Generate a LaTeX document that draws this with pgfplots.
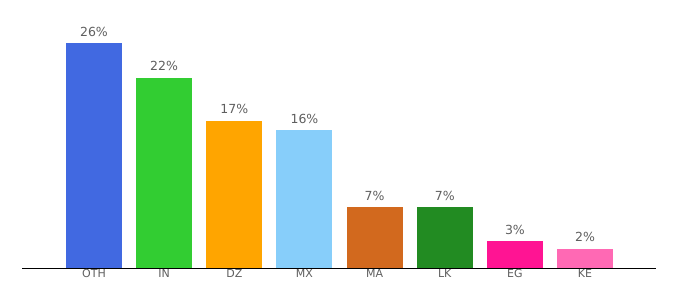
\documentclass[border=0pt]{standalone}
\usepackage{pgfplots}
\pgfplotsset{compat=1.18}
\usepackage{fontspec}
\setmainfont{DejaVu Sans}
\definecolor{cOTH}{HTML}{4169E1}
\definecolor{cIN}{HTML}{32CD32}
\definecolor{cDZ}{HTML}{FFA500}
\definecolor{cMX}{HTML}{87CEFA}
\definecolor{cMA}{HTML}{D2691E}
\definecolor{cLK}{HTML}{228B22}
\definecolor{cEG}{HTML}{FF1493}
\definecolor{cKE}{HTML}{FF69B4}
\definecolor{txt}{HTML}{5F5F5F}
\begin{document}
\begin{tikzpicture}[x=1pt,y=1pt]
\path[use as bounding box] (0,0) rectangle (680,300);
\begin{axis}[
  at={(22pt,32pt)}, anchor=south west,
  scale only axis,
  width=634pt, height=259.5pt,
  xmin=-1.026, xmax=8.011,
  ymin=0, ymax=30,
  axis y line=none,
  axis x line*=bottom,
  x axis line style={black, line width=1pt},
  xtick={0,1,2,3,4,5,6,7},
  xticklabels={OTH,IN,DZ,MX,MA,LK,EG,KE},
  major tick length=0pt,
  xticklabel style={anchor=base, yshift=-9.5pt, inner sep=0pt, font=\fontsize{11}{13}\selectfont, text=txt},
  ytick=\empty,
  bar width=56pt,
  point meta=explicit symbolic,
  nodes near coords,
  every node near coord/.append style={anchor=base, yshift=7pt, inner sep=0pt, font=\fontsize{12.5}{14}\selectfont, text=txt},
  clip=false,
]
\addplot[ybar, fill=cOTH, draw=none] coordinates {(0,26) [26\%]};
\addplot[ybar, fill=cIN, draw=none] coordinates {(1,22) [22\%]};
\addplot[ybar, fill=cDZ, draw=none] coordinates {(2,17) [17\%]};
\addplot[ybar, fill=cMX, draw=none] coordinates {(3,15.95) [16\%]};
\addplot[ybar, fill=cMA, draw=none] coordinates {(4,7.05) [7\%]};
\addplot[ybar, fill=cLK, draw=none] coordinates {(5,7) [7\%]};
\addplot[ybar, fill=cEG, draw=none] coordinates {(6,3.1) [3\%]};
\addplot[ybar, fill=cKE, draw=none] coordinates {(7,2.2) [2\%]};
\end{axis}
\end{tikzpicture}
\end{document}
